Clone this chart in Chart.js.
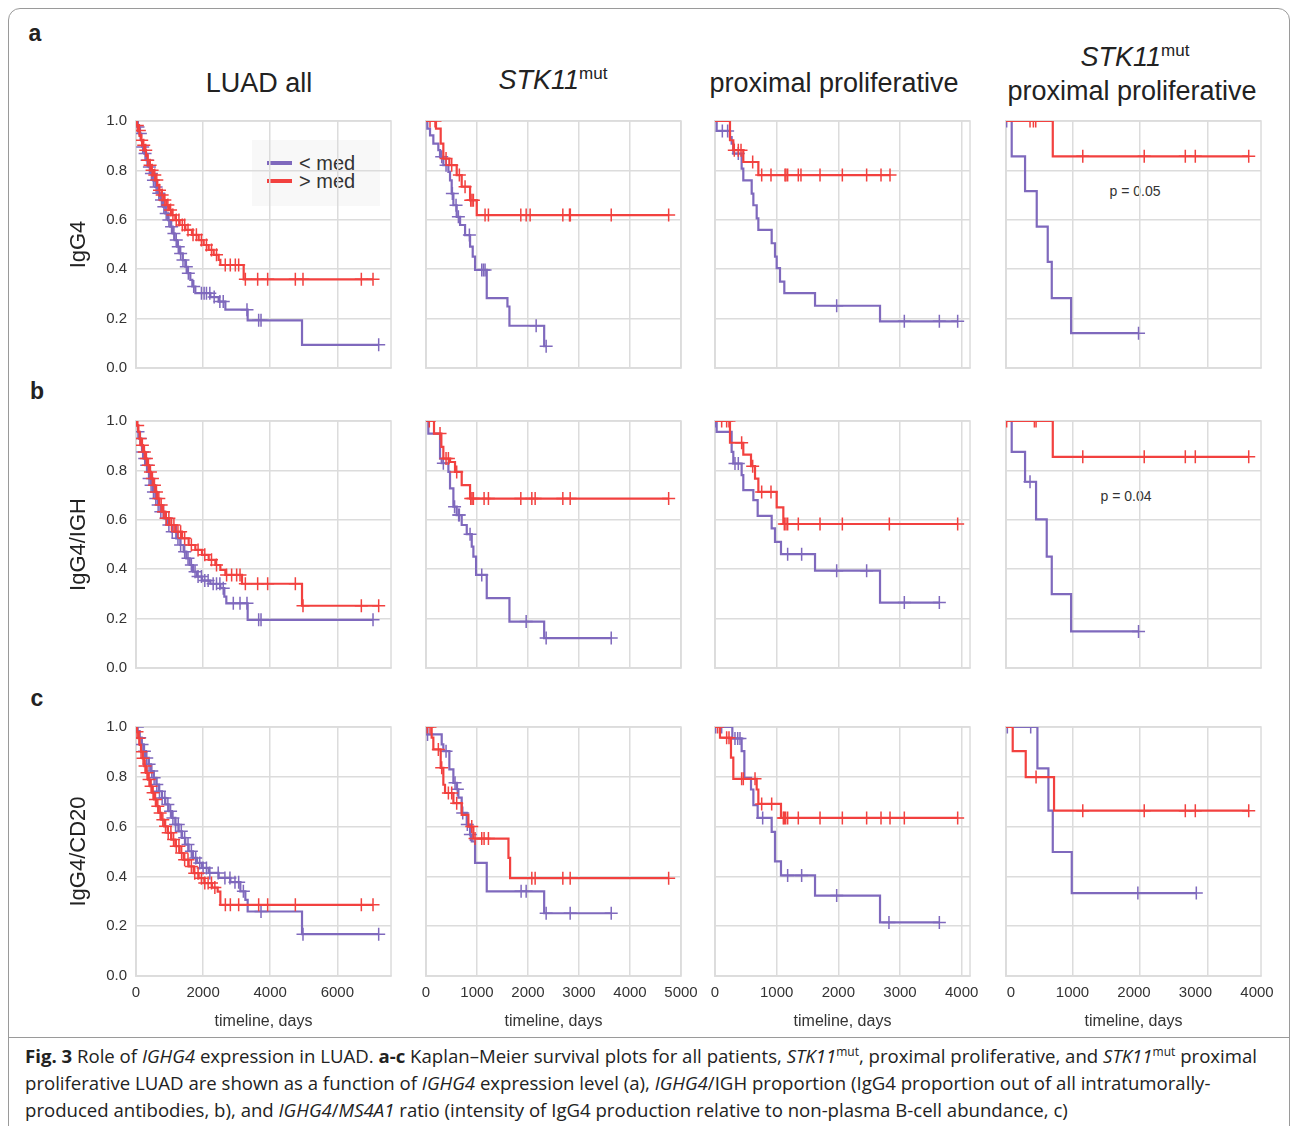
<!DOCTYPE html>
<html>
<head>
<meta charset="utf-8">
<script src="https://cdn.jsdelivr.net/npm/chart.js@4.4.1/dist/chart.umd.min.js"></script>
<style>
  body { margin: 0; background: #fff; }
  #fig { position: relative; width: 1292px; height: 1126px; overflow: hidden; font-family: "Liberation Sans", Arial, sans-serif; color: #222; }
  #frame { position: absolute; left: 8px; top: 8px; width: 1280px; height: 1140px; border: 1.5px solid #9a9a9a; border-radius: 12px; }
  #sep { position: absolute; left: 8px; top: 1037px; width: 1282px; border-top: 1.5px solid #9a9a9a; }
  .t { position: absolute; transform: translate(-50%, -50%); white-space: nowrap; line-height: 1; }
  .colt { font-size: 27px; }
  .colt sup { font-size: 17px; vertical-align: 0.55em; line-height: 0; }
  .row { font-size: 23px; font-weight: bold; }
  .pv { font-size: 14px; color: #333; }
  #legend { position: absolute; left: 252px; top: 140px; width: 128px; height: 66px; background: #f8f8f8; }
  #legend div { position: absolute; left: 15px; width: 25px; height: 4px; }
  #legend span { position: absolute; left: 47px; font-size: 20px; line-height: 20px; color: #333; }
  #cap { position: absolute; left: 25px; top: 1042px; font-family: "Open Sans", sans-serif; font-size: 18.6px; line-height: 27px; white-space: nowrap; color: #222; }
  #cap sup { font-size: 12px; line-height: 0; vertical-align: 0.6em; }
</style>
</head>
<body>
<div id="fig">
  <div id="frame"></div>
  <div id="sep"></div>

  <div class="t row" style="left:35px;top:33px">a</div>
  <div class="t row" style="left:37px;top:391px">b</div>
  <div class="t row" style="left:37px;top:698px">c</div>

  <div class="t colt" style="left:259px;top:83px">LUAD all</div>
  <div class="t colt" style="left:553px;top:80px"><i>STK11</i><sup>mut</sup></div>
  <div class="t colt" style="left:834px;top:83px">proximal proliferative</div>
  <div class="t colt" style="left:1135px;top:57px"><i>STK11</i><sup>mut</sup></div>
  <div class="t colt" style="left:1132px;top:91px">proximal proliferative</div>

  <div id="legend">
    <div style="top:21px;background:#7f69bd"></div><span style="top:13px">&lt; med</span>
    <div style="top:39px;background:#f2413f"></div><span style="top:31px">&gt; med</span>
  </div>
  <div class="t pv" style="left:1135px;top:191px">p = 0.05</div>
  <div class="t pv" style="left:1126px;top:496px">p = 0.04</div>

  <div id="cap"><b>Fig. 3</b> Role of <i>IGHG4</i> expression in LUAD. <b>a-c</b> Kaplan–Meier survival plots for all patients, <i>STK11</i><sup>mut</sup>, proximal proliferative, and <i>STK11</i><sup>mut</sup> proximal<br>proliferative LUAD are shown as a function of <i>IGHG4</i> expression level (a), <i>IGHG4</i>/IGH proportion (IgG4 proportion out of all intratumorally-<br>produced antibodies, b), and <i>IGHG4</i>/<i>MS4A1</i> ratio (intensity of IgG4 production relative to non-plasma B-cell abundance, c)</div>
</div>

<script>
// ---- Data: KM steps [day, survival after drop] and censor days ----
// Row a: IgG4
const a1Hi = [[30,.982],[70,.962],[109,.942],[149,.922],[199,.902],[248,.882],[298,.861],[348,.841],[407,.821],[457,.801],[517,.781],[576,.761],[636,.740],[695,.720],[765,.700],[835,.680],[904,.660],[984,.640],[1073,.619],[1172,.599],[1301,.579],[1470,.559],[1669,.539],[1868,.518],[2017,.498],[2166,.478],[2315,.458],[2464,.438],[2514,.417],[3209,.359]];
const a1HiCens = [40,100,170,230,290,350,420,480,560,620,700,780,860,950,1030,1100,1200,1280,1380,1450,1550,1700,1800,1950,2100,2250,2400,2660,2810,2960,3060,3259,3626,3924,4749,4977,6716,7064];
const a1Lo = [[50,.976],[99,.949],[149,.922],[199,.895],[248,.868],[308,.841],[378,.814],[447,.787],[507,.760],[576,.733],[646,.707],[725,.680],[805,.653],[874,.626],[954,.599],[1023,.572],[1093,.545],[1152,.518],[1222,.491],[1301,.464],[1391,.437],[1470,.410],[1540,.384],[1619,.357],[1679,.330],[1768,.303],[2216,.287],[2464,.269],[2663,.236],[3328,.193],[4948,.094]];
const a1LoCens = [60,130,200,270,330,400,460,520,600,680,760,830,900,980,1060,1130,1200,1260,1330,1400,1500,1560,1720,1950,2030,2100,2200,2330,2500,2600,3308,3656,3726,7233];

const a2Hi = [[196,.969],[288,.908],[340,.848],[458,.821],[602,.781],[700,.734],[864,.679],[995,.619]];
const a2HiCens = [79,177,393,504,654,766,877,903,929,1158,1224,1859,1964,2042,2683,2814,2830,3632,4758];
const a2Lo = [[26,.969],[79,.942],[144,.908],[242,.882],[275,.855],[340,.821],[439,.794],[471,.760],[504,.706],[537,.659],[602,.612],[668,.579],[766,.538],[864,.491],[916,.451],[962,.397],[1191,.283],[1597,.249],[1636,.171],[2317,.088]];
const a2LoCens = [308,393,517,589,635,851,1093,1126,1158,2160,2356];

const a3Hi = [[243,.922],[297,.882],[459,.834],[703,.781]];
const a3HiCens = [313,378,422,611,757,908,1135,1151,1178,1351,1394,1703,2065,2459,2692,2838];
const a3Lo = [[27,.96],[243,.935],[270,.908],[297,.868],[432,.807],[459,.76],[595,.706],[622,.659],[676,.606],[703,.559],[919,.505],[973,.451],[1000,.404],[1054,.350],[1124,.303],[1622,.252],[2676,.189]];
const a3LoCens = [119,205,378,1973,3070,3638,3935];

const a4Hi = [[697,.857]];
const a4HiCens = [358,408,443,1144,2060,2672,2821,3617];
const a4Lo = [[85,.857],[284,.716],[458,.572],[622,.43],[682,.283],[970,.141]];
const a4LoCens = [10,1975];

// Row b: IgG4/IGH
const b1Hi = [[30,.982],[70,.956],[109,.929],[159,.902],[209,.875],[268,.848],[328,.821],[387,.794],[447,.767],[507,.740],[566,.713],[626,.686],[695,.660],[775,.633],[874,.606],[1003,.579],[1172,.552],[1371,.525],[1570,.498],[1768,.478],[1967,.458],[2166,.438],[2365,.417],[2514,.397],[2663,.377],[3159,.341],[4948,.252]];
const b1HiCens = [50,120,190,250,310,370,430,490,550,610,680,750,820,900,980,1060,1130,1250,1330,1450,1650,1850,2050,2250,2400,2700,2850,3000,3100,3259,3626,3924,4749,4977,6716,7233];
const b1Lo = [[30,.982],[60,.956],[99,.929],[139,.902],[179,.875],[229,.848],[278,.821],[328,.794],[387,.767],[447,.740],[507,.713],[576,.686],[646,.660],[725,.633],[825,.606],[944,.579],[1073,.552],[1202,.525],[1321,.498],[1421,.471],[1500,.444],[1600,.417],[1699,.390],[1818,.370],[1967,.354],[2216,.341],[2514,.323],[2633,.289],[2692,.262],[3328,.195]];
const b1LoCens = [60,130,200,260,320,390,450,520,590,660,740,820,900,980,1080,1200,1250,1330,1450,1550,1650,1760,1850,1950,2050,2150,2300,2400,2500,2600,2900,3100,3308,3656,3726,7064];

const b2Hi = [[157,.949],[301,.895],[340,.848],[471,.834],[569,.794],[700,.740],[864,.686]];
const b2HiCens = [65,275,393,439,602,877,903,929,1139,1224,1859,2075,2140,2683,2827,4758];
const b2Lo = [[46,.949],[275,.848],[308,.829],[439,.794],[471,.727],[537,.653],[602,.619],[700,.579],[799,.542],[897,.491],[929,.451],[982,.377],[1191,.283],[1636,.188],[2317,.121]];
const b2LoCens = [340,560,640,654,864,1093,1964,2356,3632];

const b3Hi = [[243,.912],[459,.864],[584,.817],[649,.767],[703,.713],[1000,.650],[1108,.583]];
const b3HiCens = [108,189,227,432,611,757,908,1124,1151,1178,1351,1703,2065,2827,3935];
const b3Lo = [[27,.956],[270,.875],[297,.828],[432,.781],[459,.72],[622,.68],[692,.616],[919,.565],[973,.511],[1070,.461],[1622,.394],[2676,.265]];
const b3LoCens = [11,324,378,1178,1405,1973,2459,3070,3638];

const b4Hi = [[697,.855]];
const b4HiCens = [10,423,448,1144,2060,2672,2821,3617];
const b4Lo = [[85,.875],[284,.754],[448,.602],[607,.451],[682,.299],[970,.148]];
const b4LoCens = [358,1975];

// Row c: IgG4/CD20
const c1Hi = [[30,.981],[70,.955],[109,.928],[149,.901],[199,.874],[248,.843],[298,.816],[358,.789],[417,.762],[477,.736],[536,.709],[606,.682],[676,.655],[755,.628],[844,.601],[944,.575],[1053,.548],[1172,.521],[1301,.494],[1421,.467],[1570,.440],[1719,.413],[1868,.393],[2037,.373],[2265,.355],[2434,.339],[2514,.286]];
const c1HiCens = [30,90,150,210,270,330,390,450,510,580,650,720,800,880,960,1040,1120,1200,1280,1360,1450,1550,1650,1750,1850,1950,2050,2150,2250,2350,2663,2812,3060,3656,3924,4749,6716,7064];
const c1Lo = [[50,.984],[109,.957],[169,.930],[229,.903],[298,.876],[378,.850],[447,.823],[527,.796],[606,.769],[686,.742],[775,.715],[874,.689],[974,.662],[1073,.635],[1172,.608],[1272,.581],[1371,.555],[1470,.528],[1570,.501],[1699,.474],[1818,.454],[1967,.434],[2166,.414],[2464,.394],[2812,.377],[3110,.340],[3259,.306],[3328,.259],[4948,.168]];
const c1LoCens = [40,110,180,250,320,390,470,540,620,700,780,860,950,1030,1100,1180,1260,1350,1450,1550,1650,1780,1900,2000,2100,2200,2450,2650,2800,2950,3060,3200,3726,4977,7233];

const c2Hi = [[111,.957],[144,.91],[288,.836],[340,.768],[373,.735],[537,.694],[700,.647],[831,.600],[929,.552],[1617,.474],[1649,.393]];
const c2HiCens = [26,79,242,308,439,504,602,897,962,1093,1139,1224,2075,2140,2683,2827,4758];
const c2Lo = [[26,.97],[308,.93],[340,.903],[458,.83],[537,.776],[602,.750],[635,.716],[700,.655],[799,.608],[864,.568],[897,.541],[962,.454],[1191,.340],[2317,.252]];
const c2LoCens = [30,393,569,615,720,810,870,1865,1964,2356,2827,3632];

const c3Hi = [[81,.957],[259,.877],[297,.792],[676,.749],[703,.691],[1070,.635]];
const c3HiCens = [43,189,227,432,459,649,757,919,1108,1124,1146,1178,1351,1703,2065,2459,2692,2838,3070,3935];
const c3Lo = [[281,.954],[432,.903],[476,.796],[584,.749],[622,.686],[692,.635],[919,.579],[973,.46],[1070,.404],[1622,.323],[2676,.215]];
const c3LoCens = [11,108,324,368,405,773,1178,1405,1973,2821,3638];

const c4Hi = [[100,.903],[294,.799],[716,.664]];
const c4HiCens = [448,1144,2060,2672,2821,3617];
const c4Lo = [[468,.834],[632,.664],[697,.498],[980,.333]];
const c4LoCens = [20,368,1965,2836];

// ---- Axes ----
const X_MAX = [7600, 5000, 4135, 3800];
const X_TICKS = [[0,2000,4000,6000], [0,1000,2000,3000,4000,5000], [0,1000,2000,3000,4000], [0,1000,2000,3000]];
// tick labels on the bottom row (last column's labels sit on their own spacing)
const XL_RANGE = [[0,7600], [0,5000], [0,4135], [-81,4065]];
const XL_TICKS = [[0,2000,4000,6000], [0,1000,2000,3000,4000,5000], [0,1000,2000,3000,4000], [0,1000,2000,3000,4000]];
const Y_TICKS = [0, 0.2, 0.4, 0.6, 0.8, 1.0];
const Y_TITLES = ['IgG4', 'IgG4/IGH', 'IgG4/CD20'];
const X_TITLE = 'timeline, days';

const PANELS = [
    [[a1Lo, a1LoCens, a1Hi, a1HiCens], [a2Lo, a2LoCens, a2Hi, a2HiCens], [a3Lo, a3LoCens, a3Hi, a3HiCens], [a4Lo, a4LoCens, a4Hi, a4HiCens]],
    [[b1Lo, b1LoCens, b1Hi, b1HiCens], [b2Lo, b2LoCens, b2Hi, b2HiCens], [b3Lo, b3LoCens, b3Hi, b3HiCens], [b4Lo, b4LoCens, b4Hi, b4HiCens]],
    [[c1Lo, c1LoCens, c1Hi, c1HiCens], [c2Lo, c2LoCens, c2Hi, c2HiCens], [c3Lo, c3LoCens, c3Hi, c3HiCens], [c4Lo, c4LoCens, c4Hi, c4HiCens]]
];

// ---- Layout (plot rectangles in page pixels) ----
const COLS = [{ l: 136, r: 391 }, { l: 426, r: 681 }, { l: 715, r: 970 }, { l: 1006, r: 1261 }];
const ROWS = [{ t: 121, b: 368 }, { t: 421, b: 668 }, { t: 727, b: 976 }];
const PURPLE = '#7f69bd';
const RED = '#f2413f';
const GRID = '#dcdcdc';

Chart.defaults.font.family = '"Liberation Sans", Arial, sans-serif';

// Build KM points: start at (0,1), drops at event days, censor marks at current level
function kmPoints(steps, cens) {
    const pts = [{ x: 0, y: 1, c: false }];
    steps.forEach(([t, s]) => pts.push({ x: t, y: s, c: false }));
    cens.forEach(t => pts.push({ x: t, y: null, c: true }));
    pts.sort((a, b) => a.x - b.x || (a.c - b.c));
    let cur = 1;
    pts.forEach(p => { if (p.c) p.y = cur; else cur = p.y; });
    return pts;
}

const kmDataset = (pts, color) => ({
    data: pts,
    borderColor: color,
    backgroundColor: color,
    borderWidth: 2.2,
    stepped: true,
    pointStyle: 'cross',
    pointRadius: c => (c.raw && c.raw.c ? 6.5 : 0),
    pointBorderWidth: 1.5,
    pointBorderColor: color,
    pointHoverRadius: 0
});

const framePlugin = {
    id: 'frame',
    beforeDatasetsDraw(chart) {
        const { ctx, chartArea: a } = chart;
        ctx.save();
        ctx.strokeStyle = GRID;
        ctx.lineWidth = 1.5;
        ctx.strokeRect(a.left, a.top, a.right - a.left, a.bottom - a.top);
        ctx.restore();
    }
};

// fixed axis sizes, and no extra room for overhanging tick labels
const fixHoriz = h => s => { s.height = h; s.paddingLeft = 0; s.paddingRight = 0; };
const fixVert = w => s => { s.width = w; s.paddingTop = 0; s.paddingBottom = 0; };

const fig = document.getElementById('fig');

function makePanel(r, c) {
    const col = COLS[c], row = ROWS[r];
    const L = c === 0 ? 74 : 10, T = 10, R = r === 2 ? 25 : 10, B = r === 2 ? 59 : 10;
    const w = col.r - col.l + L + R, h = row.b - row.t + T + B;
    const cv = document.createElement('canvas');
    cv.width = w; cv.height = h;
    cv.style.cssText = `position:absolute;left:${col.l - L}px;top:${row.t - T}px;width:${w}px;height:${h}px`;
    fig.appendChild(cv);

    const [lo, loC, hi, hiC] = PANELS[r][c];
    const gridOpt = { color: GRID, lineWidth: 1.5, drawTicks: false };
    const scales = {
        x: {
            type: 'linear', min: 0, max: X_MAX[c], weight: 0,
            afterBuildTicks: s => { s.ticks = X_TICKS[c].map(v => ({ value: v })); },
            ticks: { display: false },
            grid: gridOpt,
            border: { color: GRID, width: 1.5 },
            afterFit: fixHoriz(r === 2 ? 0 : B)
        },
        y: {
            min: 0, max: 1,
            afterBuildTicks: s => { s.ticks = Y_TICKS.map(v => ({ value: v })); },
            ticks: { display: c === 0, padding: 9, color: '#333', font: { size: 15 }, callback: v => v.toFixed(1) },
            grid: gridOpt,
            border: { color: GRID, width: 1.5 },
            title: { display: c === 0, text: Y_TITLES[r], color: '#222', font: { size: 22 } },
            afterFit: fixVert(L)
        }
    };
    if (r === 2) {
        scales.xl = {
            type: 'linear', position: 'bottom', weight: 1,
            min: XL_RANGE[c][0], max: XL_RANGE[c][1],
            afterBuildTicks: s => { s.ticks = XL_TICKS[c].map(v => ({ value: v })); },
            ticks: { padding: 8, color: '#333', font: { size: 15 }, autoSkip: false, maxRotation: 0, callback: v => String(v) },
            grid: { display: false, drawTicks: false },
            border: { display: false },
            title: { display: true, text: X_TITLE, color: '#333', font: { size: 16 } },
            afterFit: fixHoriz(B)
        };
    }

    new Chart(cv, {
        type: 'line',
        data: { datasets: [kmDataset(kmPoints(hi, hiC), RED), kmDataset(kmPoints(lo, loC), PURPLE)] },
        options: {
            responsive: false,
            animation: false,
            events: [],
            layout: { padding: { top: T, right: R, left: 0, bottom: 0 } },
            plugins: { legend: { display: false }, tooltip: { enabled: false } },
            scales
        },
        plugins: [framePlugin]
    });
}

for (let r = 0; r < 3; r++) for (let c = 0; c < 4; c++) makePanel(r, c);
</script>
</body>
</html>
